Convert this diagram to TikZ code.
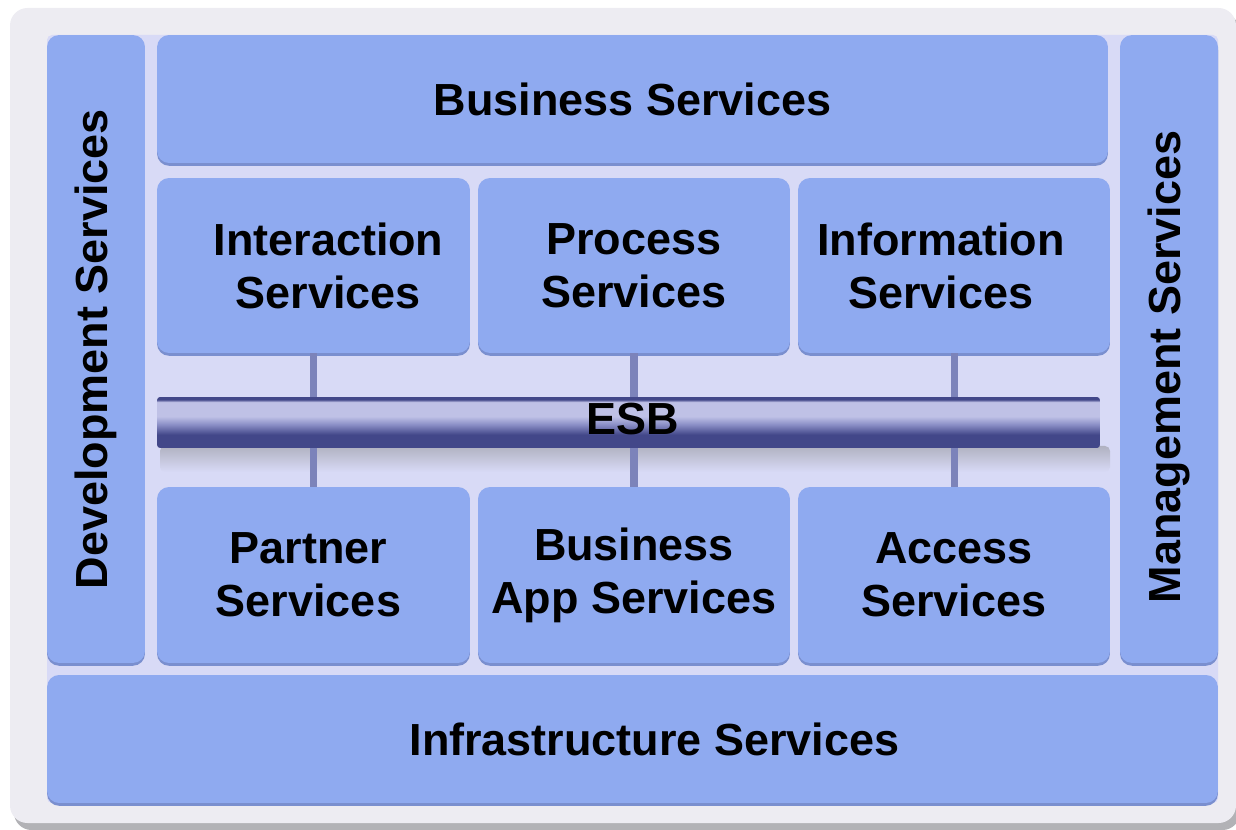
\documentclass[tikz,border=0pt]{standalone}
\usepackage{fontspec}
\setmainfont{Liberation Sans}
\usetikzlibrary{positioning,calc,shadows}

\definecolor{framegray}{HTML}{EDECF2}
\definecolor{frameshadow}{HTML}{B2B2B6}
\definecolor{backlav}{HTML}{D8DAF6}
\definecolor{boxblue}{HTML}{8FAAF0}
\definecolor{boxedge}{HTML}{7A8FCF}
\definecolor{esbdark}{HTML}{424789}
\definecolor{esbmid}{HTML}{8A8EC6}
\definecolor{esblight}{HTML}{BFC1E6}
\definecolor{linkblue}{HTML}{7C83BA}

\pgfdeclareverticalshading{esbtube}{100bp}{color(0bp)=(esbdark); color(25bp)=(esbdark); color(38bp)=(esbdark); color(48bp)=(esbmid); color(56bp)=(esblight); color(70bp)=(esblight); color(72.5bp)=(esbdark); color(75bp)=(esbdark); color(100bp)=(esbdark)}

\tikzset{
  svcfont/.style={font=\bfseries\fontsize{25.6}{30.2}\selectfont},
  svcbox/.style={svcfont, align=center, inner sep=0pt, fill=boxblue,
    rounded corners=0.24cm,
    drop shadow={fill=boxedge, opacity=1, shadow xshift=0pt, shadow yshift=-1.6pt}},
  svctext/.style={svcfont, align=center},
  esblink/.style={draw=linkblue, line width=4pt},
}

\begin{document}
\begin{tikzpicture}[x=0.02cm, y=-0.02cm]
  \useasboundingbox (0,0) rectangle (1236,830);
  % frame and background
  \fill[frameshadow, rounded corners=0.35cm] (14,14) rectangle (1240,830);
  \fill[framegray, rounded corners=0.35cm] (10,8) rectangle (1236,823);
  \fill[backlav, rounded corners=0.1cm] (47,35) rectangle (1218,803);
  %
  \node[svcbox, minimum width=1.96cm, minimum height=12.56cm] (dev) at (96,349) {};
  \node[svcbox, minimum width=1.96cm, minimum height=12.56cm] (mgmt) at (1169,349) {};
  \node[svcfont, rotate=90] (devtxt) at (dev.center) {Development Services};
  \node[svcfont, rotate=90] (mgmttxt) at ($(mgmt.center)+(0,18)$) {Management Services};
  %
  \node[svcbox, minimum width=19.02cm, minimum height=2.56cm] (busn) at (632.5,99) {Business Services};
  \node[svcbox, minimum width=6.26cm, minimum height=3.5cm,
    label={[svctext, xshift=0.3cm]center:Interaction\\Services}] (inter) at (313.5,265.5) {};
  \node[svcbox, minimum width=6.24cm, minimum height=3.5cm] (proc) at (634,265.5) {Process\\Services};
  \node[svcbox, minimum width=6.24cm, minimum height=3.5cm,
    label={[svctext, xshift=-0.26cm]center:Information\\Services}] (info) at (954,265.5) {};
  \node[svcbox, minimum width=6.26cm, minimum height=3.52cm,
    label={[svctext, xshift=-0.1cm]center:Partner\\Services}] (partner) at (313.5,575) {};
  \node[svcbox, minimum width=6.24cm, minimum height=3.52cm] (bizapp) at (634,575) {Business\\App Services};
  \node[svcbox, minimum width=6.24cm, minimum height=3.52cm] (access) at (954,575) {Access\\Services};
  \node[svcbox, minimum width=23.42cm, minimum height=2.56cm,
    label={[svctext, xshift=0.44cm]center:Infrastructure Services}] (infra) at (632.5,739) {};
  % bus shadow and links
  \shade[top color=gray!45!backlav, bottom color=backlav, rounded corners=0.1cm] (160,446) rectangle (1110,472);
  \coordinate (esbtop) at (628.5,397);
  \coordinate (esbbot) at (628.5,448);
  \draw[esblink] (inter.south) -- (inter.south |- esbtop);
  \draw[esblink] (proc.south) -- (proc.south |- esbtop);
  \draw[esblink] (info.south) -- (info.south |- esbtop);
  \draw[esblink] (partner.north) -- (partner.north |- esbbot);
  \draw[esblink] (bizapp.north) -- (bizapp.north |- esbbot);
  \draw[esblink] (access.north) -- (access.north |- esbbot);
  % bus
  \node[svcfont, shading=esbtube, inner sep=0pt, rounded corners=0.06cm,
    minimum width=18.86cm, minimum height=1.02cm] (esb) at (628.5,422.5) {};
  \node[svcfont] (esbtxt) at ($(esb.center)+(4,-3)$) {ESB};
\end{tikzpicture}
\end{document}
